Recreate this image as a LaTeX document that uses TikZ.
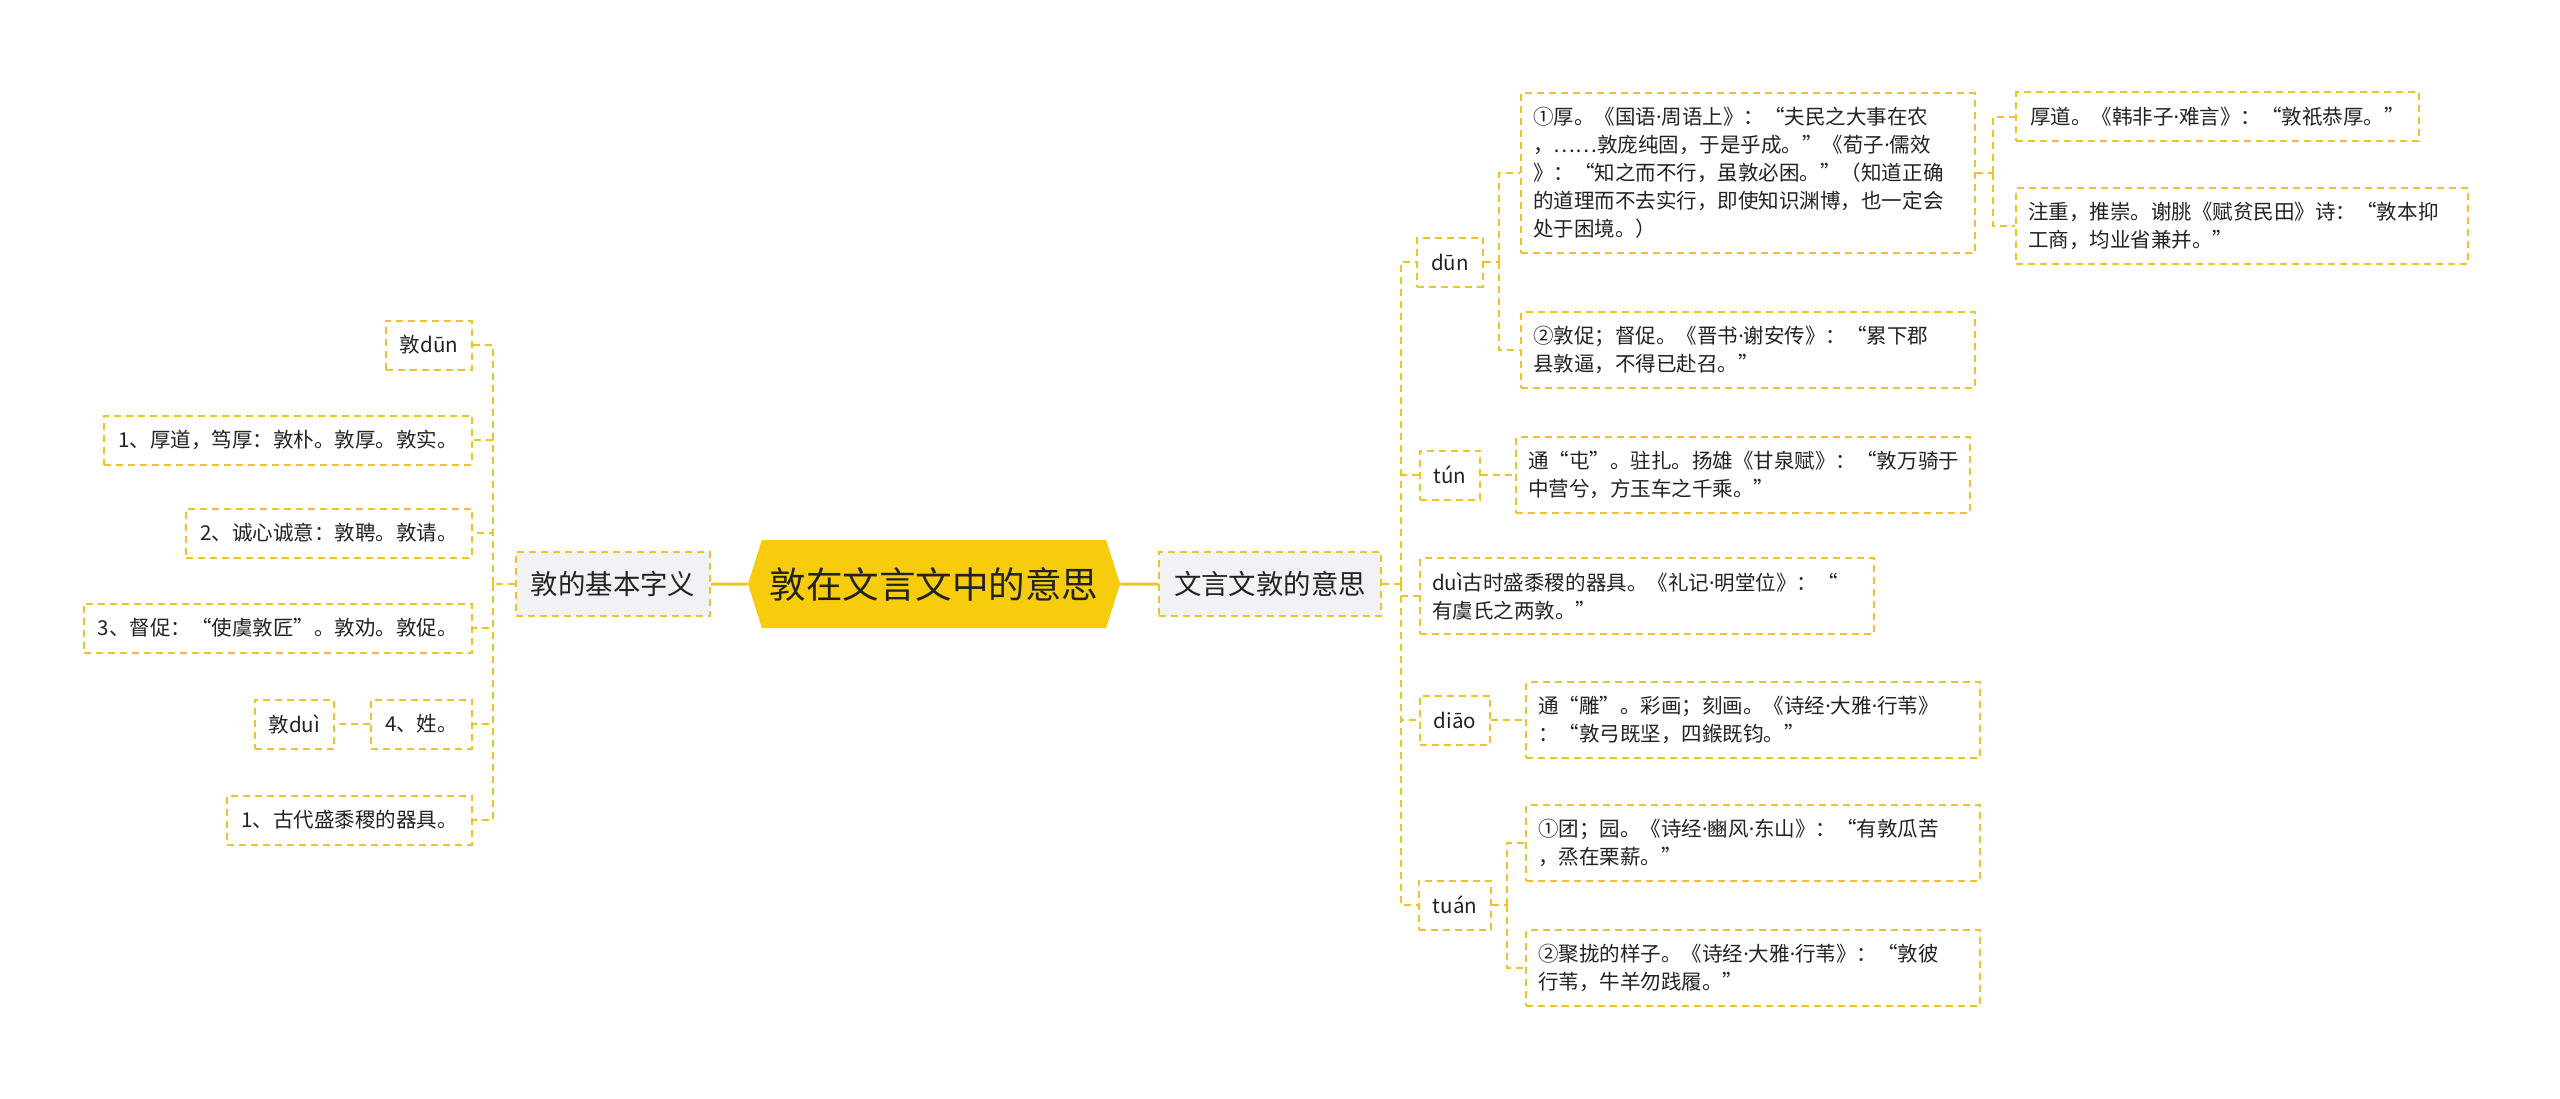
\documentclass[tikz,border=0pt]{standalone}
\usepackage{fontspec}
\setmainfont{Noto Sans CJK SC}
\newfontfamily\latinfont{Noto Sans}
\newfontfamily\hanfont{Noto Sans CJK SC}
\XeTeXinterchartokenstate=1
\newXeTeXintercharclass\dotclass
\XeTeXcharclass"00B7=\dotclass
\XeTeXinterchartoks 0 \dotclass={\latinfont}
\XeTeXinterchartoks 1 \dotclass={\latinfont}
\XeTeXinterchartoks 2 \dotclass={\latinfont}
\XeTeXinterchartoks 3 \dotclass={\latinfont}
\XeTeXinterchartoks 4095 \dotclass={\latinfont}
\XeTeXinterchartoks \dotclass 0={\hanfont}
\XeTeXinterchartoks \dotclass 1={\hanfont}
\XeTeXinterchartoks \dotclass 2={\hanfont}
\XeTeXinterchartoks \dotclass 3={\hanfont}
\XeTeXinterchartoks \dotclass 4095={\hanfont}
\usepackage{tikz}
\usetikzlibrary{shapes.symbols}
\definecolor{lineyel}{RGB}{236,196,40}
\definecolor{rootyel}{RGB}{246,204,12}
\definecolor{boxgray}{RGB}{240,242,245}
\definecolor{txt}{RGB}{34,34,34}

\begin{document}
\begin{tikzpicture}[x=0.25mm,y=-0.25mm,
  font=\fontsize{14.6pt}{19.9pt}\selectfont,text=txt,
  link/.style={draw=lineyel,line width=0.5mm,dash pattern=on 1.75mm off 1.25mm},
  trunk/.style={draw=lineyel,line width=0.75mm},
  leaf/.style={link,inner xsep=3.5mm,inner ysep=0mm,minimum height=12.25mm},
  para/.style={link,align=left,text width=107.5mm,inner xsep=3mm,inner ysep=3.5mm},
  mainbox/.style={link,fill=boxgray,minimum height=16mm,font=\fontsize{19.5pt}{24pt}\selectfont},
  rootbox/.style={signal,signal to=east and west,signal pointer angle=145,fill=rootyel,
    inner sep=0mm,minimum width=93mm,minimum height=22mm,font=\fontsize{26pt}{30pt}\selectfont}]
\useasboundingbox (0,0) rectangle (2560,1099);
\node[rootbox] (root) at (934,584) {敦在文言文中的意思};
\node[mainbox,minimum width=48.5mm] (jb) at (613,584) {敦的基本字义};
\node[mainbox,minimum width=55.5mm] (wy) at (1270,584) {文言文敦的意思};
\node[leaf] (dn) at (1450,262) {dūn};
\node[leaf] (tn) at (1450,475) {tún};
\node[para,anchor=west] (dui) at (1419,596) {duì古时盛黍稷的器具。《礼记·明堂位》：“\\有虞氏之两敦。”};
\node[leaf] (dy) at (1455,720) {diāo};
\node[leaf] (tu) at (1455,905) {tuán};
\node[para,anchor=west] (dn1) at (1520,173) {①厚。《国语·周语上》：“夫民之大事在农\\，……敦庞纯固，于是乎成。”《荀子·儒效\\》：“知之而不行，虽敦必困。”（知道正确\\的道理而不去实行，即使知识渊博，也一定会\\处于困境。）};
\node[para,anchor=west] (dn2) at (1520,350) {②敦促；督促。《晋书·谢安传》：“累下郡\\县敦逼，不得已赴召。”};
\node[leaf,anchor=west] (hd) at (2015,117) {厚道。《韩非子·难言》：“敦祇恭厚。”};
\node[para,anchor=west,text width=107mm] (zz) at (2015,226) {注重，推崇。谢朓《赋贫民田》诗：“敦本抑\\工商，均业省兼并。”};
\node[para,anchor=west] (tn1) at (1515,475) {通“屯”。驻扎。扬雄《甘泉赋》：“敦万骑于\\中营兮，方玉车之千乘。”};
\node[para,anchor=west] (dy1) at (1525,720) {通“雕”。彩画；刻画。《诗经·大雅·行苇》\\：“敦弓既坚，四鍭既钧。”};
\node[para,anchor=west] (tu1) at (1525,843) {①团；园。《诗经·豳风·东山》：“有敦瓜苦\\，烝在栗薪。”};
\node[para,anchor=west] (tu2) at (1525,968) {②聚拢的样子。《诗经·大雅·行苇》：“敦彼\\行苇，牛羊勿践履。”};
\node[leaf,anchor=east] (lz) at (473,345) {敦dūn};
\node[leaf,anchor=east] (l1) at (473,440) {1、厚道，笃厚：敦朴。敦厚。敦实。};
\node[leaf,anchor=east] (l2) at (473,533) {2、诚心诚意：敦聘。敦请。};
\node[leaf,anchor=east] (l3) at (473,628) {3、督促：“使虞敦匠”。敦劝。敦促。};
\node[leaf,anchor=east] (l4) at (473,724) {4、姓。};
\node[leaf,anchor=east] (ld) at (335,724) {敦duì};
\node[leaf,anchor=east] (l5) at (473,820) {1、古代盛黍稷的器具。};
\coordinate (ls) at (493,584);
\coordinate (rs) at (1401,584);
\coordinate (ds) at (1499,262);
\coordinate (hs) at (1993,173);
\coordinate (us) at (1507,905);
\draw[trunk] (root) -- (jb);
\draw[trunk] (root) -- (wy);
\draw[link] (jb) -- (ls);
\foreach \n in {lz,l1,l2,l3,l4,l5} \draw[link] (ls) |- (\n);
\draw[link] (l4) -- (ld);
\draw[link] (wy) -- (rs);
\foreach \n in {dn,tn,dui,dy,tu} \draw[link] (rs) |- (\n);
\draw[link] (dn) -- (ds);
\foreach \n in {dn1,dn2} \draw[link] (ds) |- (\n);
\draw[link] (dn1) -- (hs);
\foreach \n in {hd,zz} \draw[link] (hs) |- (\n);
\draw[link] (tn) -- (tn1);
\draw[link] (dy) -- (dy1);
\draw[link] (tu) -- (us);
\foreach \n in {tu1,tu2} \draw[link] (us) |- (\n);
\end{tikzpicture}
\end{document}
